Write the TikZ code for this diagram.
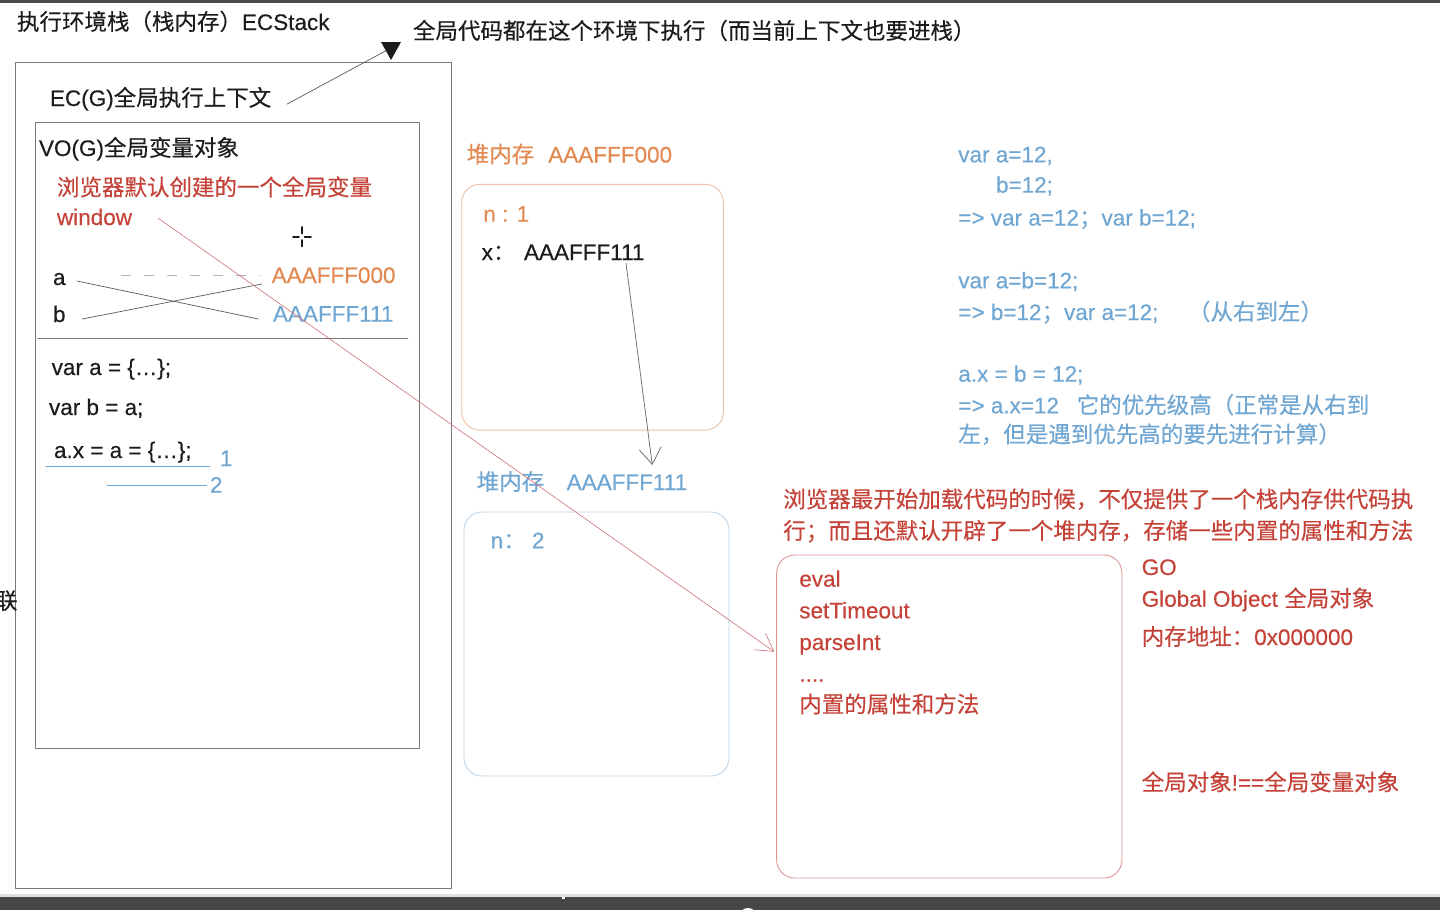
\documentclass[tikz,border=0pt]{standalone}
\usepackage{fontspec}
\setmainfont{Liberation Sans}[FakeBold=0.3]
\newfontfamily\cjk{Noto Sans CJK SC}[FakeBold=0.3]
\newcommand{\zh}[1]{{\cjk #1}}
\usetikzlibrary{arrows.meta}
\definecolor{ink}{RGB}{28,28,28}
\definecolor{redink}{RGB}{196,66,56}
\definecolor{orangeink}{RGB}{226,138,82}
\definecolor{blueink}{RGB}{112,166,210}
\definecolor{frameline}{RGB}{120,120,120}
\definecolor{orangeline}{RGB}{238,192,164}
\definecolor{blueline}{RGB}{186,212,232}
\definecolor{redline}{RGB}{222,150,148}
\definecolor{pinkline}{RGB}{208,112,118}

\begin{document}
\begin{tikzpicture}[x=1pt, y=-1pt, line cap=round, line join=round,
    font=\fontsize{22.5pt}{27pt}\selectfont,
    txt/.style={inner sep=0pt, outer sep=0pt, anchor=base west, text height=16pt, text depth=5pt, text=ink},
    rtxt/.style={txt, text=redink},
    otxt/.style={txt, text=orangeink},
    btxt/.style={txt, text=blueink},
    frame/.style={draw=frameline, line width=0.9pt, inner sep=0pt},
    heap/.style={line width=0.9pt, rounded corners=18pt, inner sep=0pt},
    thinline/.style={draw=black!65, line width=0.7pt},
    uline/.style={draw=blueink, line width=0.7pt},
    ptr/.style={draw=black!55, line width=0.8pt, -{Straight Barb[length=16pt, width=22pt]}},
    winptr/.style={draw=pinkline, line width=0.6pt, -{Straight Barb[length=17pt, width=20pt]}}]
  \fill[white] (0,0) rectangle (1440,910);
  \useasboundingbox (0,0) rectangle (1440,910);
  \fill[black!70] (0,0) rectangle (1440,2.5);

  % execution stack
  \node[txt] (stack) at (17,30) {\zh{执行环境栈（栈内存）}ECStack};
  \node[txt] (note) at (413,39) {\zh{全局代码都在这个环境下执行（而当前上下文也要进栈）}};
  \node[frame, minimum width=436pt, minimum height=826pt] (ecbox) at (233,475) {};
  \node[txt] (ecg) at (50,106) {EC(G)\zh{全局执行上下文}};
  \coordinate (mark) at (391,48);
  \draw[thinline] ([xshift=16pt,yshift=-3.5pt]ecg.east) -- (mark);
  \fill[ink] (mark) +(-10,-6) -- +(10,-6) -- +(0,12) -- cycle;

  % variable object
  \node[frame, minimum width=384pt, minimum height=626pt] (vobox) at (227,435) {};
  \node[txt] (vog) at (39,156) {VO(G)\zh{全局变量对象}};
  \node[rtxt] (wdesc) at (57,195.5) {\zh{浏览器默认创建的一个全局变量}};
  \node[rtxt] (win) at (57,225) {window};
  \draw[ink, line width=1.6pt] (293,236.7) -- (299,236.7) (304.5,236.7) -- (311,236.7)
    (301.7,227) -- (301.7,233.5) (301.7,240) -- (301.7,246.5);
  \node[txt] (a) at (53,285) {a};
  \node[txt] (b) at (53,322) {b};
  \node[otxt] (addrA) at (271.7,283) {AAAFFF000};
  \node[btxt] (addrB) at (273,321.7) {AAAFFF111};
  \draw[draw=black!30, line width=1pt, dash pattern=on 9pt off 14pt]
    ([xshift=56pt,yshift=4.5pt]a.east) -- ([xshift=-11.7pt,yshift=2.5pt]addrA.west);
  \draw[thinline] ([xshift=11.5pt,yshift=-1.5pt]a.east) -- ([xshift=-14.7pt,yshift=-2.8pt]addrB.west);
  \draw[thinline] ([xshift=16.8pt,yshift=-2.5pt]b.east) -- ([xshift=-10pt,yshift=-6.5pt]addrA.west);
  \draw[frame] (38,338.3) -- (408,338.3);
  \node[txt] (code1) at (51.7,375) {var a = \{…\};};
  \node[txt] (code2) at (49,415) {var b = a;};
  \node[txt] (code3) at (54,458) {a.x = a = \{…\};};
  \node[btxt] (one) at (220,466) {1};
  \node[btxt] (two) at (210,492.7) {2};
  \draw[uline] (45.7,466.7) -- (210,466.7);
  \draw[uline] (107,485.7) -- (206.7,485.7);
  \node[txt] (cut) at (-5,609) {\zh{联}};

  % heap AAAFFF000
  \node[otxt] (heapA) at (466.7,162.5) {\zh{堆内存}};
  \node[otxt] (hAddrA) at (548.3,162.5) {AAAFFF000};
  \node[heap, draw=orangeline, minimum width=261.6pt, minimum height=245.7pt] (boxA) at (592.5,307.2) {};
  \node[otxt] (nA) at (483.3,221.7) {n : 1};
  \node[txt] (xA) at (481.7,260) {x\zh{：}};
  \node[txt] (xref) at (524,260) {AAAFFF111};

  % heap AAAFFF111
  \node[btxt] (heapB) at (476.7,490) {\zh{堆内存}};
  \node[btxt] (hAddrB) at (566.7,490) {AAAFFF111};
  \node[heap, draw=blueline, minimum width=265pt, minimum height=264pt] (boxB) at (596.5,644) {};
  \node[btxt] (nB) at (490.7,548.3) {n\zh{：} 2};
  \draw[ptr] ([xshift=102pt,yshift=1.7pt]xref.south west) -- ([xshift=85.6pt,yshift=9pt]hAddrB.north west);

  % notes
  \node[btxt] (r1) at (958.3,162.3) {var a=12,};
  \node[btxt] (r2) at (996,192.7) {b=12;};
  \node[btxt] (r3) at (958.3,225.5) {=> var a=12\zh{；}var b=12;};
  \node[btxt] (r4) at (958.3,288.3) {var a=b=12;};
  \node[btxt] (r5) at (958.3,320) {=> b=12\zh{；}var a=12;};
  \node[btxt] (r5n) at (1188,320) {\zh{（从右到左）}};
  \node[btxt] (r6) at (958.3,381.7) {a.x = b = 12;};
  \node[btxt] (r7) at (958.3,413.3) {=> a.x=12};
  \node[btxt] (r7n) at (1076.7,413.3) {\zh{它的优先级高（正常是从右到}};
  \node[btxt] (r8) at (958.3,442.5) {\zh{左，但是遇到优先高的要先进行计算）}};

  % global object
  \node[rtxt] (intro1) at (783.3,507.5) {\zh{浏览器最开始加载代码的时候，不仅提供了一个栈内存供代码执}};
  \node[rtxt] (intro2) at (783.3,539) {\zh{行；而且还默认开辟了一个堆内存，存储一些内置的属性和方法}};
  \node[heap, draw=redline, minimum width=345.3pt, minimum height=323pt] (goBox) at (949.3,716.5) {};
  \node[rtxt] (f1) at (799.3,586.7) {eval};
  \node[rtxt] (f2) at (799.3,618.3) {setTimeout};
  \node[rtxt] (f3) at (799.3,650) {parseInt};
  \node[rtxt] (f4) at (799.3,681.7) {....};
  \node[rtxt] (f5) at (799.3,712.5) {\zh{内置的属性和方法}};
  \node[rtxt] (go) at (1141.7,575) {GO};
  \node[rtxt] (goName) at (1141.7,606.7) {Global Object \zh{全局对象}};
  \node[rtxt] (goAddr) at (1141.7,645) {\zh{内存地址：}0x000000};
  \node[rtxt] (goNote) at (1141.7,790.5) {\zh{全局对象}!==\zh{全局变量对象}};
  \draw[winptr] ([xshift=26.3pt,yshift=1.2pt]win.east) -- ([xshift=-2pt,yshift=64.8pt]goBox.west);

  % player bar
  \fill[black!12] (0,893.5) rectangle (1440,897);
  \fill[black!72] (0,897) rectangle (1440,910);
  \fill[white] (562,897) rectangle (565,899);
  \fill[white] (748,917) circle (9);
\end{tikzpicture}
\end{document}
